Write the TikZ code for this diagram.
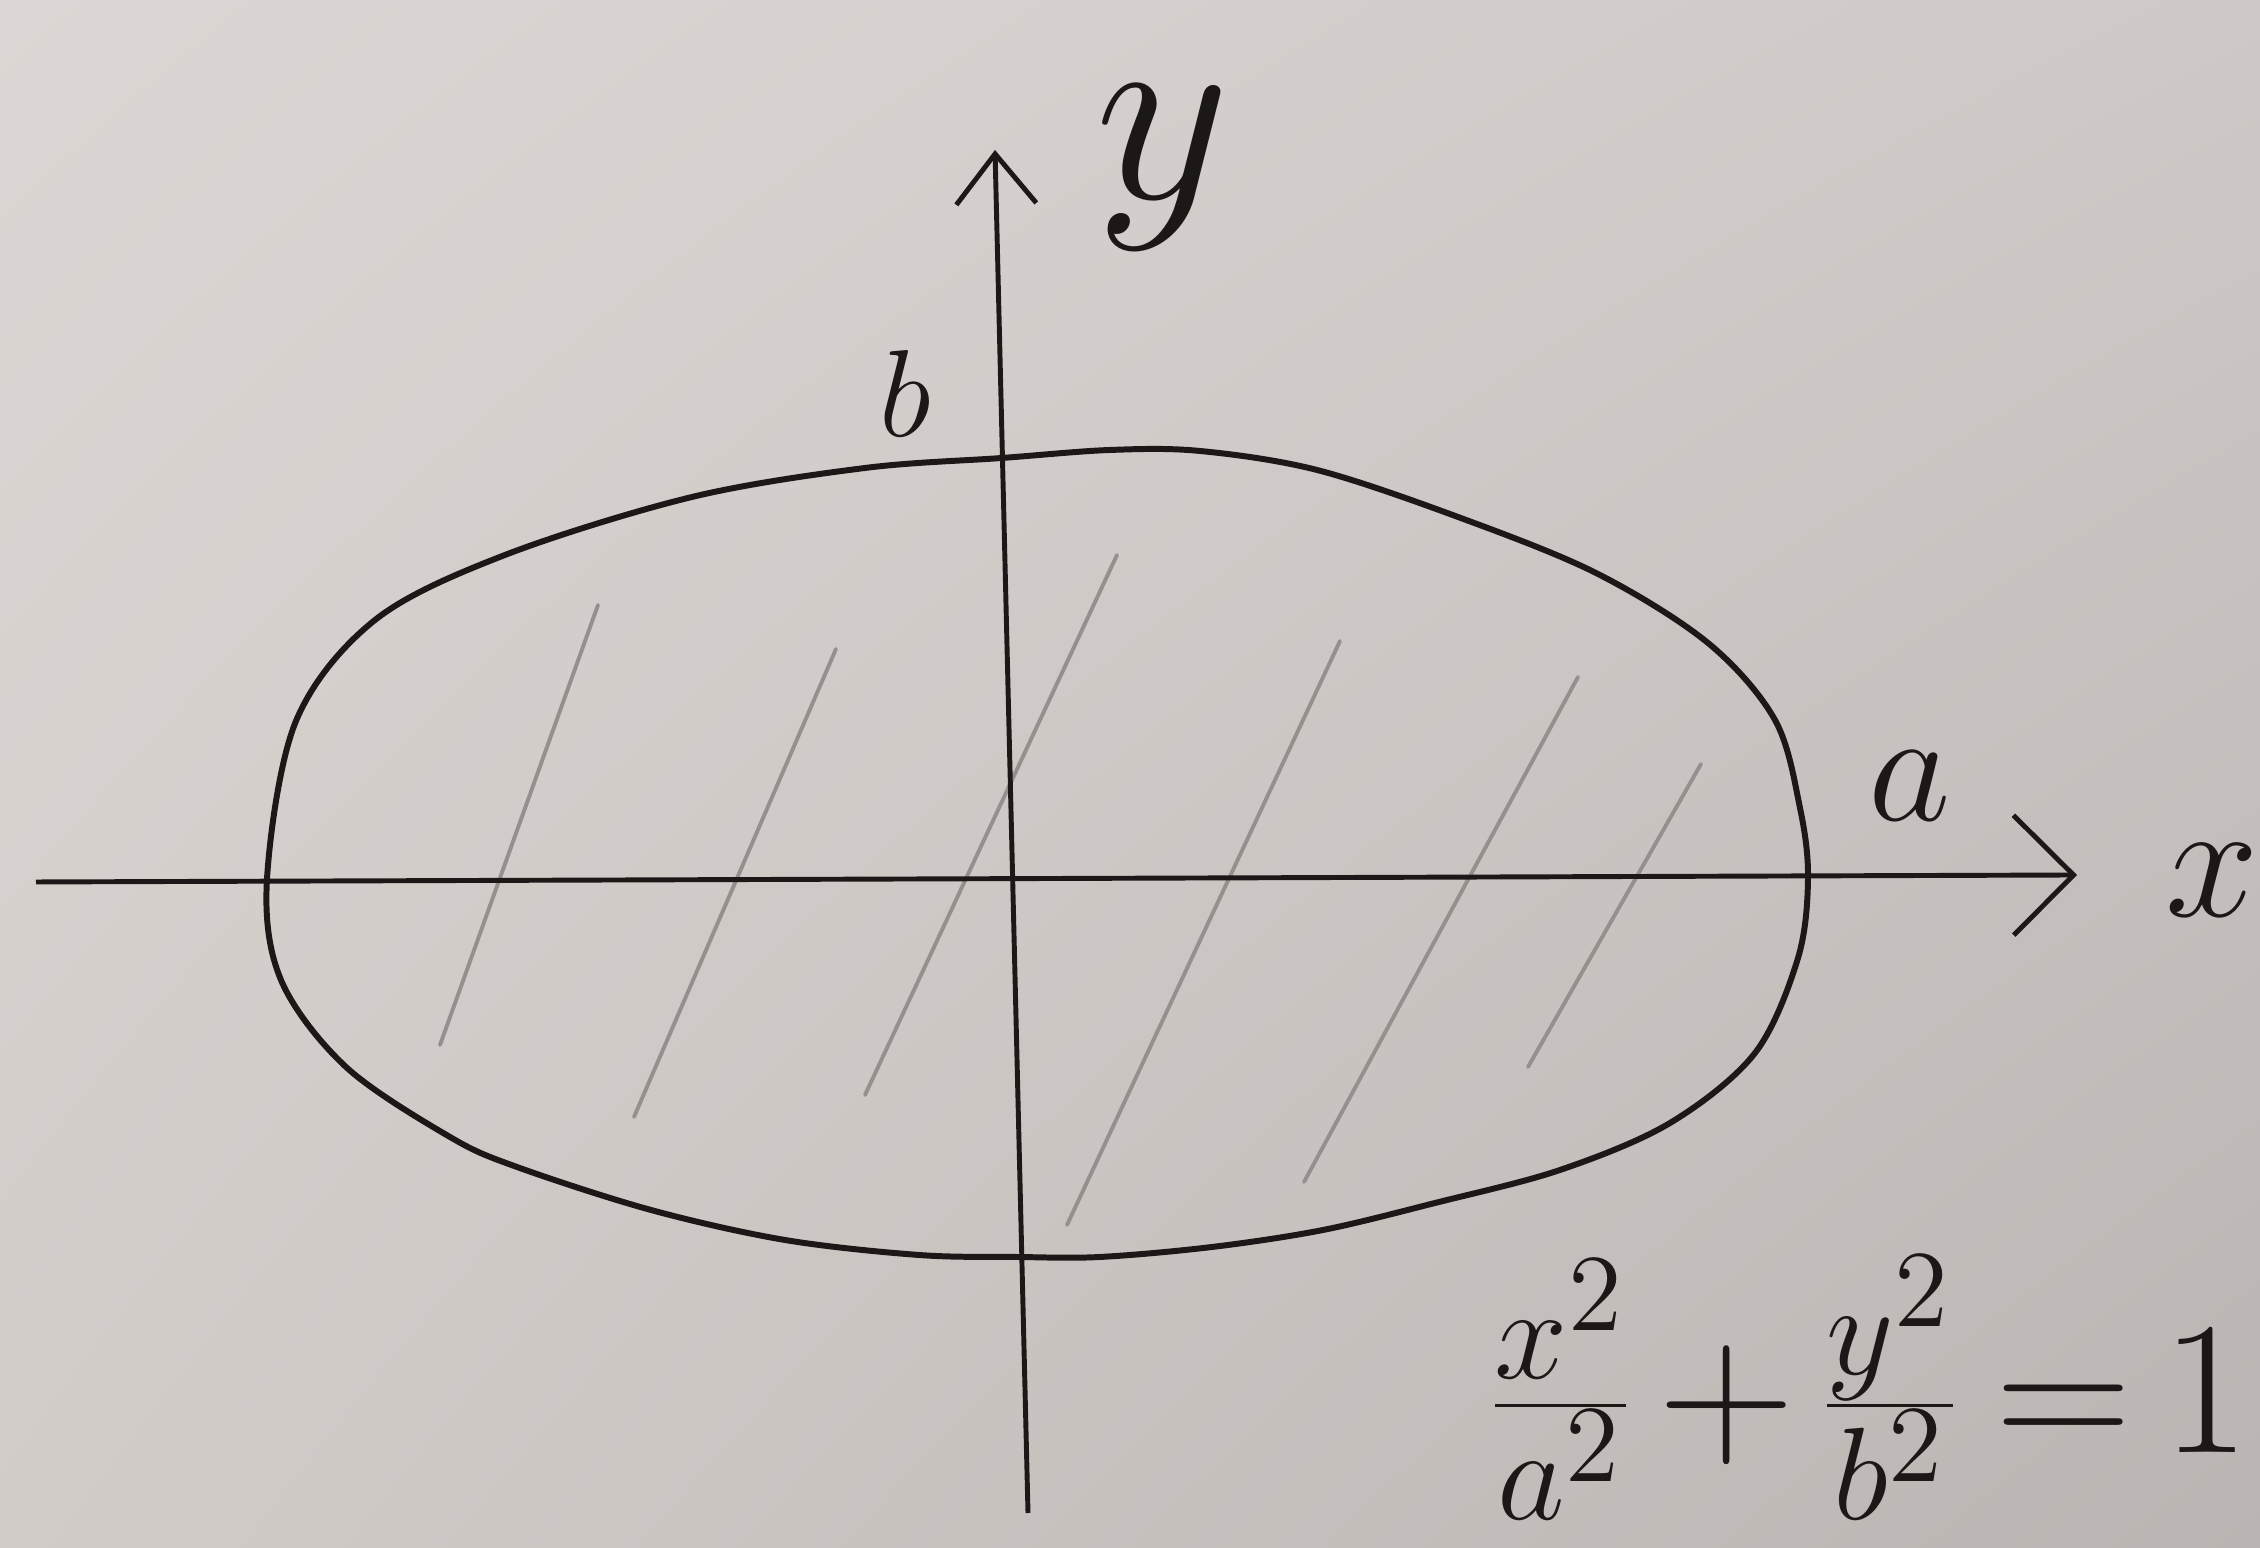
\documentclass[tikz,border=0pt]{standalone}
\usetikzlibrary{arrows.meta, shadings}

\definecolor{paperUL}{RGB}{220,214,212}
\definecolor{paperUR}{RGB}{206,201,198}
\definecolor{paperLL}{RGB}{210,204,201}
\definecolor{paperLR}{RGB}{186,180,178}
\definecolor{ink}{RGB}{28,24,24}
\definecolor{pencil}{RGB}{150,143,141}

\begin{document}
\begin{tikzpicture}[
    % Define the styles for the sketch
    axis/.style={draw=ink, line width=1.4pt},
    curve/.style={draw=ink, line width=1.7pt},
    hatch/.style={draw=pencil, line width=1.1pt, line cap=round},
    lbl/.style={text=ink, inner sep=0pt, font=\huge}
]

% Paper background
\shade[upper left=paperUL, upper right=paperUR, lower left=paperLL, lower right=paperLR]
    (0,0) rectangle (22.6,15.48);
\useasboundingbox (0,0) rectangle (22.6,15.48);
\clip (0,0) rectangle (22.6,15.48);

% Define the end points of the axes
\coordinate (XL) at (0.36,6.66);
\coordinate (XR) at (20.77,6.73);
\coordinate (YB) at (10.28,0.35);
\coordinate (YT) at (9.95,13.98);

% Define the end points of the hatching
\coordinate (H1a) at (5.98,9.43);  \coordinate (H1b) at (4.40,5.03);
\coordinate (H2a) at (8.36,8.99);  \coordinate (H2b) at (6.34,4.31);
\coordinate (H3a) at (11.17,9.93); \coordinate (H3b) at (8.65,4.53);
\coordinate (H4a) at (13.40,9.07); \coordinate (H4b) at (10.67,3.23);
\coordinate (H5a) at (15.78,8.71); \coordinate (H5b) at (13.04,3.66);
\coordinate (H6a) at (17.01,7.84); \coordinate (H6b) at (15.28,4.81);

% Draw the hatching
\foreach \i in {1,...,6}
    \draw[hatch] (H\i a) -- (H\i b);

% Draw the ellipse
\draw[curve] plot[smooth cycle, tension=0.55] coordinates {
    (2.67,6.69) (2.96,8.27) (3.75,9.28) (5.05,9.93) (6.92,10.51)
    (8.65,10.80) (10.02,10.90) (11.10,10.98) (12.00,10.97) (13.17,10.78)
    (14.58,10.31) (15.96,9.75) (17.08,9.05) (17.75,8.28) (18.00,7.40)
    (18.08,6.70) (17.98,5.90) (17.55,4.95) (16.70,4.25)
    (15.60,3.78) (14.35,3.45) (13.23,3.18) (12.12,3.01) (11.00,2.91)
    (10.17,2.91) (9.19,2.93) (7.85,3.08) (6.51,3.38) (5.17,3.81)
    (4.50,4.11) (3.46,4.81) (2.81,5.68)};

% Draw the axes
\draw[axis, -{Straight Barb[length=6mm,width=12mm]}] (XL) -- (XR);
\draw[axis, -{Straight Barb[length=5mm,width=8mm]}] (YB) -- (YT);

% Add the labels
\node[lbl, scale=3.6] (ylab) at (11.63,13.80) {$y$};
\node[lbl, scale=1.7] (blab) at (9.05,11.55) {$b$};
\node[lbl, scale=2.2] (alab) at (19.10,7.62) {$a$};
\node[lbl, scale=2.3] (xlab) at (22.12,6.68) {$x$};

% Add the equation
\node[lbl, scale=2.6, anchor=base east] (eqn) at (22.52,0.95)
    {$\medmuskip=2mu \thickmuskip=3mu \frac{x^2}{a^2}+\frac{y^2}{b^2}=1$};

\end{tikzpicture}
\end{document}
